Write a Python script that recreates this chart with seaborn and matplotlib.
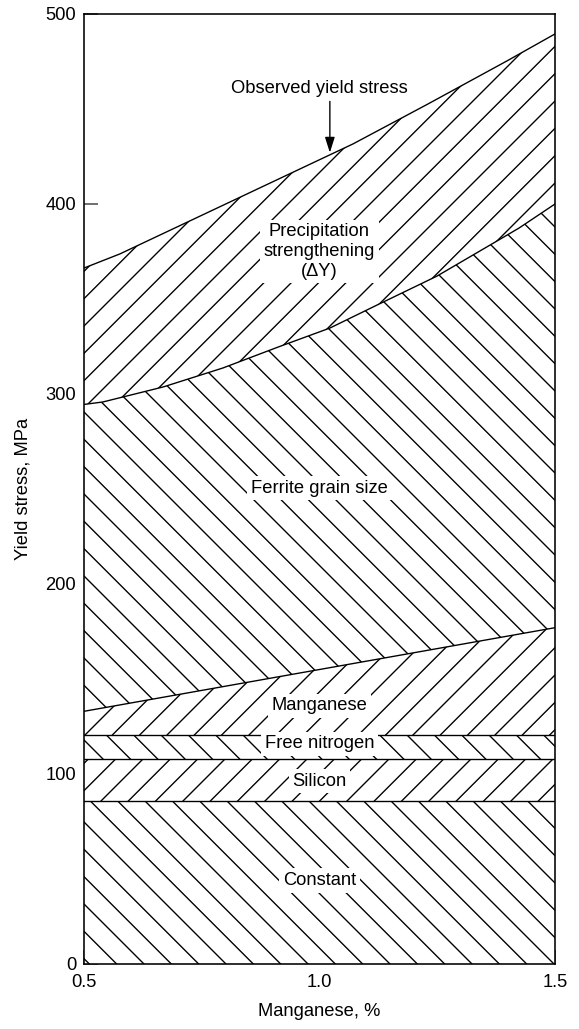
import numpy as np
import matplotlib
matplotlib.use("Agg")
import matplotlib.pyplot as plt
import seaborn as sns
import pandas as pd

# ---------------- data ----------------
x_range = [0.5, 1.5]
constant_top = [86, 86]
silicon_top = [108, 108]
nitrogen_top = [120.5, 120.5]
manganese_x = [0.5, 1.5]
manganese_top = [133, 177]
ferrite_x = [0.5, 0.54, 0.668, 0.795, 0.912, 1.022, 1.122, 1.249, 1.387, 1.424, 1.5]
ferrite_top = [294.5, 295.8, 303.7, 313.7, 324.7, 334.7, 346.8, 362, 382, 387.4, 400]
observed_x = [0.5, 0.576, 1.071, 1.23, 1.398, 1.5]
observed_top = [366.3, 373.7, 431.6, 452.6, 475.3, 489.5]

region_labels = ["Constant", "Silicon", "Free nitrogen", "Manganese",
                 "Ferrite grain size", "Precipitation\nstrengthening\n(\u0394Y)"]
label_y = [44, 96.3, 115.8, 135.8, 250.5, 375]
label_x = [1.0, 1.0, 1.0, 1.0, 1.0, 1.0]
observed_label = "Observed yield stress"

y_ticks = [0, 100, 200, 300, 400, 500]
x_ticks = [0.5, 1.0, 1.5]
x_ticklabels = ["0.5", "1.0", "1.5"]

# ---------------- style ----------------
sns.set_theme(style="white")
plt.rcParams["font.family"] = ["Liberation Sans", "DejaVu Sans"]
plt.rcParams["hatch.linewidth"] = 0.6
plt.rcParams["axes.linewidth"] = 0.7

DPI = 164
W, H = 579, 1029
fig = plt.figure(figsize=(W / DPI, H / DPI), dpi=DPI)
ax = fig.add_axes([84 / W, 1 - 964 / H, 471 / W, 950 / H])
ax.set_facecolor("white")

FS = 8.1
LW = 0.6

# ---------------- hatched regions ----------------
zero = [0, 0]
regions = [
    (x_range, zero, x_range, constant_top, "\\\\"),
    (x_range, constant_top, x_range, silicon_top, "//"),
    (x_range, silicon_top, x_range, nitrogen_top, "\\\\"),
    (x_range, nitrogen_top, manganese_x, manganese_top, "//"),
    (manganese_x, manganese_top, ferrite_x, ferrite_top, "\\\\"),
    (ferrite_x, ferrite_top, observed_x, observed_top, "//"),
]
for xl, yl, xu, yu, h in regions:
    px = np.concatenate([np.asarray(xl, float), np.asarray(xu, float)[::-1]])
    py = np.concatenate([np.asarray(yl, float), np.asarray(yu, float)[::-1]])
    ax.fill(px, py, facecolor="white", edgecolor="black", hatch=h,
            linewidth=0, zorder=1)

# ---------------- boundary lines ----------------
for xs, ys in [(x_range, constant_top), (x_range, silicon_top),
               (x_range, nitrogen_top), (manganese_x, manganese_top),
               (ferrite_x, ferrite_top), (observed_x, observed_top)]:
    sns.lineplot(x=xs, y=ys, ax=ax, color="black", linewidth=LW,
                 estimator=None, sort=False, zorder=2)

# ---------------- labels ----------------
for lx, ly, t in zip(label_x, label_y, region_labels):
    ax.text(lx, ly, t, ha="center", va="center", fontsize=FS, color="black",
            linespacing=1.2, zorder=4,
            bbox=dict(facecolor="white", edgecolor="none", boxstyle="square,pad=0.2"))

ax.text(1.0, 461, observed_label, ha="center", va="center", fontsize=FS,
        color="black", zorder=4)
ax.annotate("", xy=(1.022, 427), xytext=(1.022, 454),
            arrowprops=dict(arrowstyle="-|>,head_length=0.57,head_width=0.18",
                            mutation_scale=10, color="black", lw=0.6,
                            shrinkA=0, shrinkB=0), zorder=4)

# ---------------- axes ----------------
ax.set_xlim(0.5, 1.5)
ax.set_ylim(0, 500)
ax.set_xticks(x_ticks)
ax.set_xticklabels(x_ticklabels)
ax.set_yticks(y_ticks)
for s in ax.spines.values():
    s.set_color("black")
    s.set_linewidth(0.7)
    s.set_zorder(5)
ax.tick_params(axis="both", direction="in", length=6.1, width=0.66,
               color="#444444", labelcolor="black", labelsize=FS,
               left=True, bottom=True, top=False, right=False)
ax.tick_params(axis="y", pad=3.5)
ax.tick_params(axis="x", pad=4.5)
ax.set_xlabel("Manganese, %", fontsize=FS, color="black", labelpad=5)
ax.set_ylabel("Yield stress, MPa", fontsize=FS, color="black", labelpad=6)

fig.savefig("out.png", dpi=DPI, facecolor="white")
